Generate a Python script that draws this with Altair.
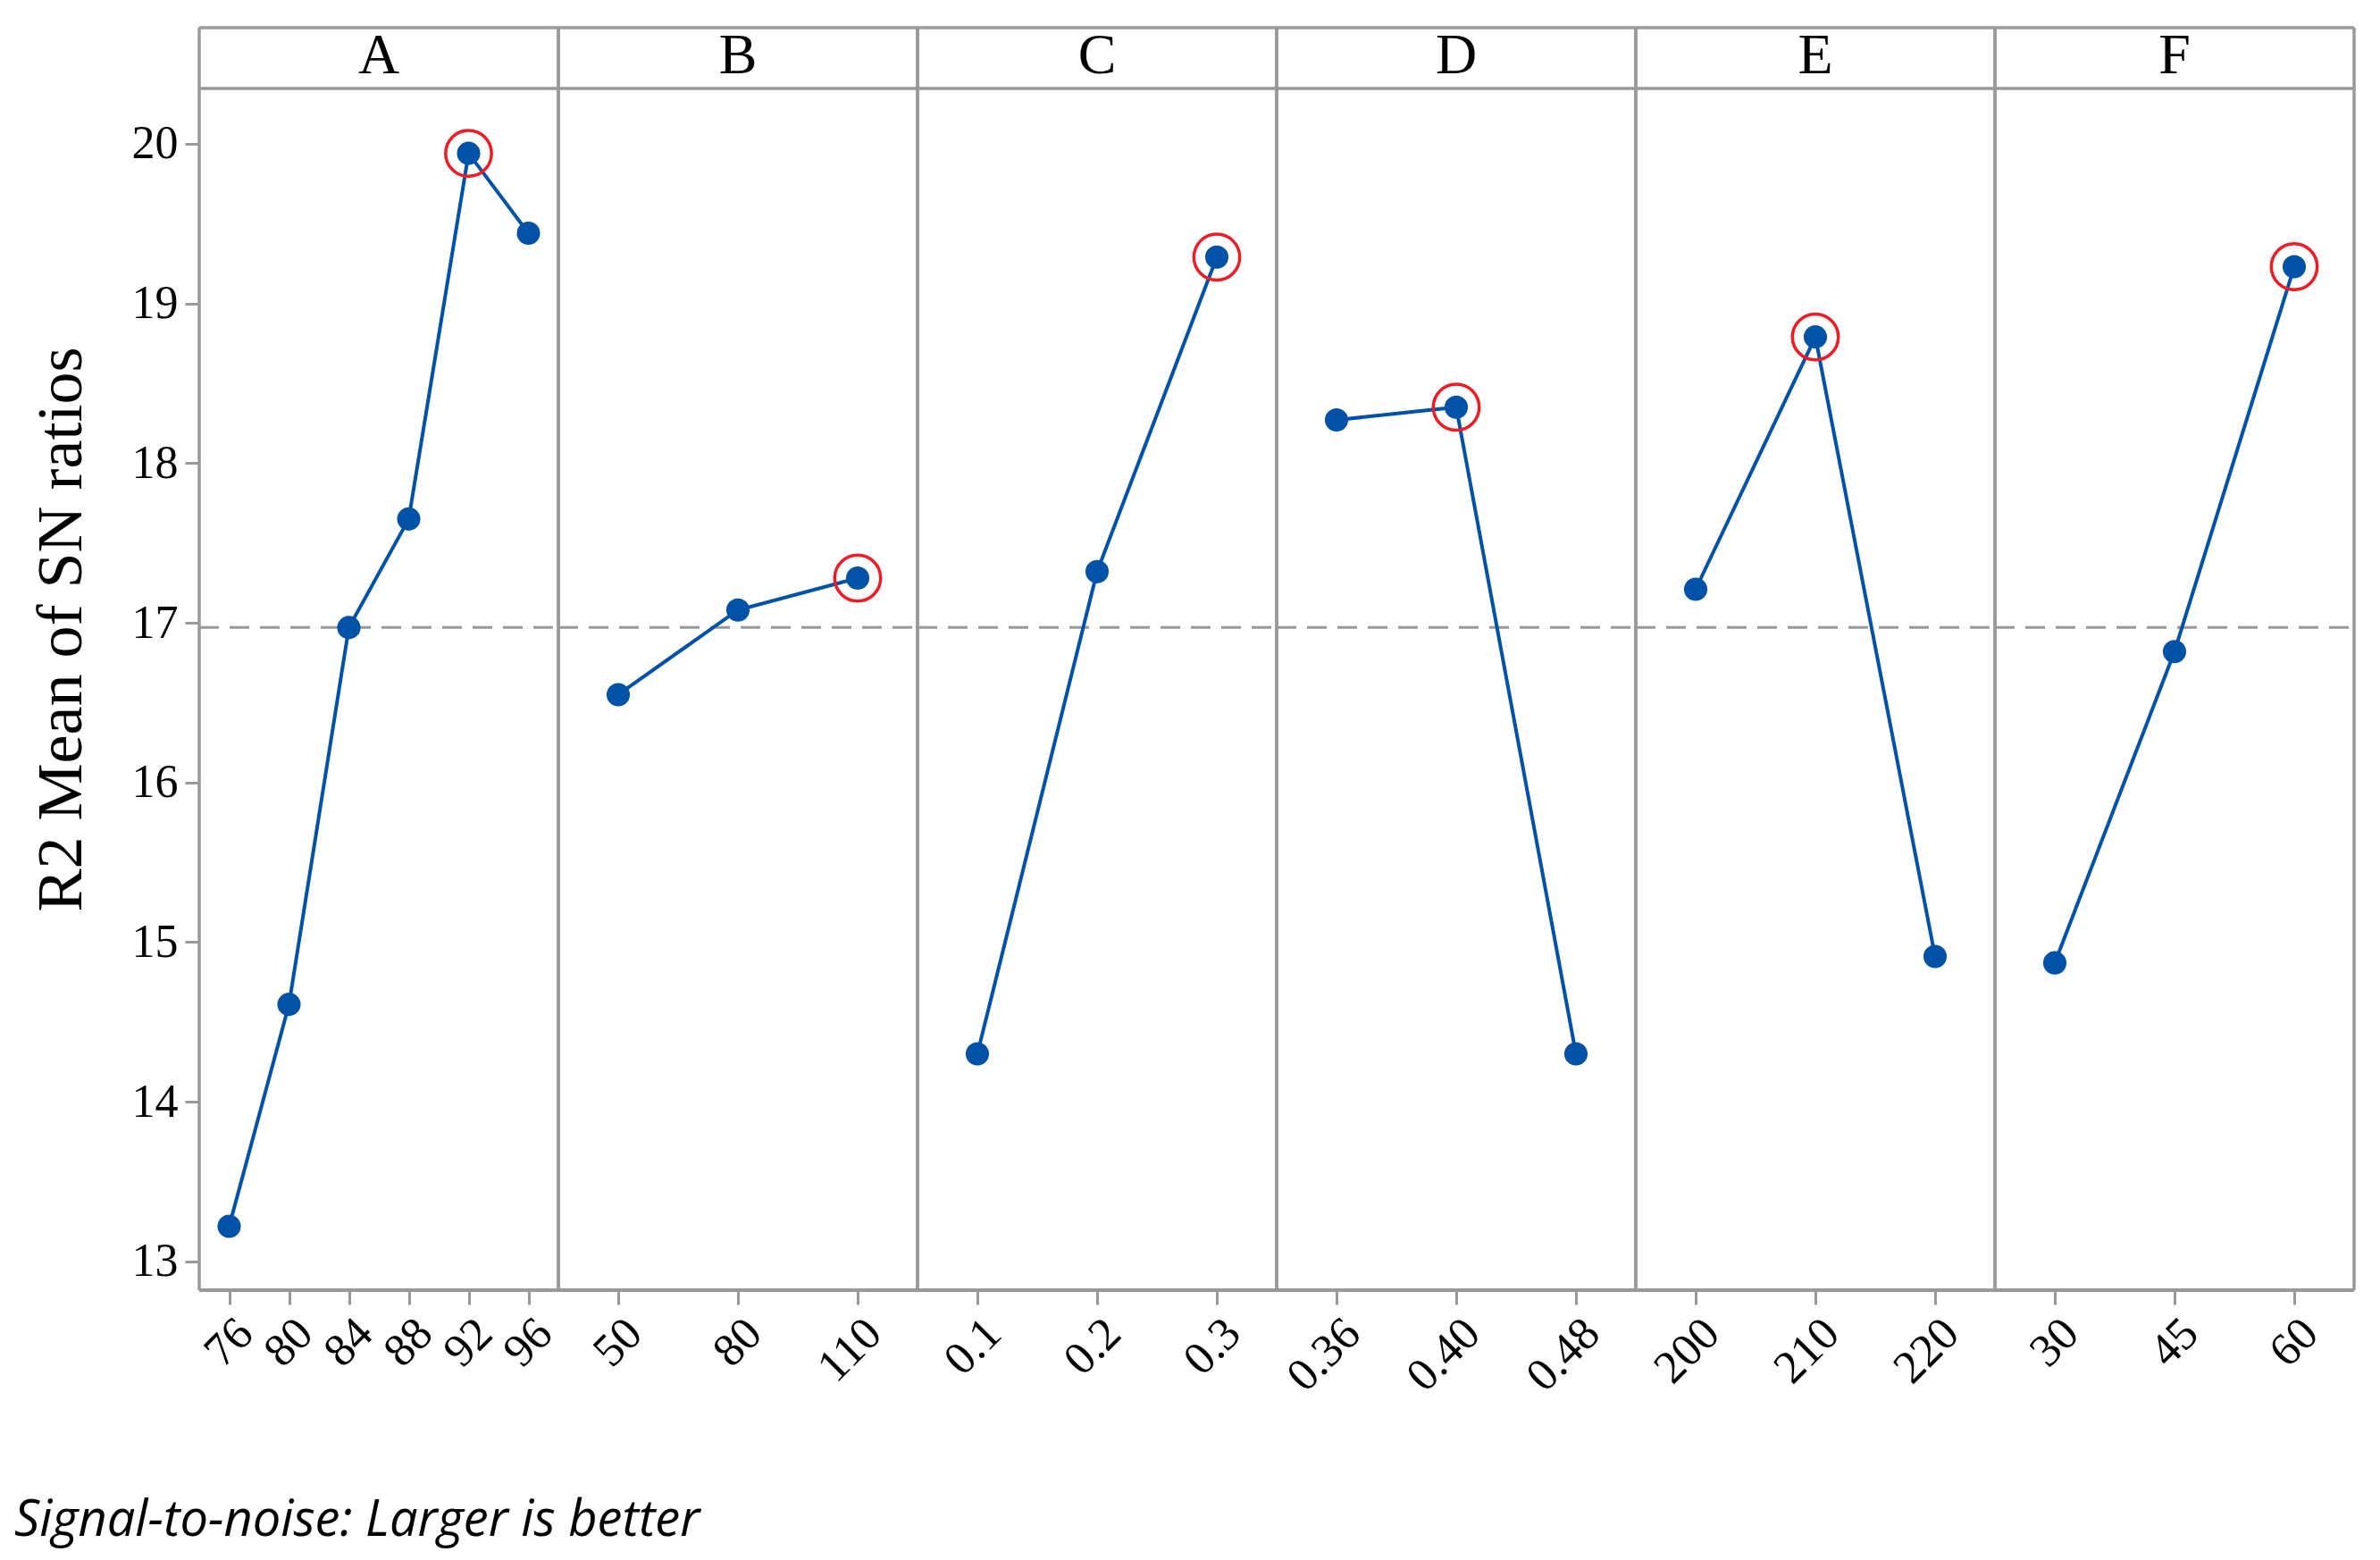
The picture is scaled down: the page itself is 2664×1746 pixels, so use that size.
import altair as alt
import pandas as pd

factors = ["A", "B", "C", "D", "E", "F"]
levels_A = ["76", "80", "84", "88", "92", "96"]
sn_A = [13.22, 14.61, 16.97, 17.65, 19.94, 19.44]
levels_B = ["50", "80", "110"]
sn_B = [16.55, 17.08, 17.28]
levels_C = ["0.1", "0.2", "0.3"]
sn_C = [14.30, 17.32, 19.29]
levels_D = ["0.36", "0.40", "0.48"]
sn_D = [18.27, 18.35, 14.30]
levels_E = ["200", "210", "220"]
sn_E = [17.21, 18.79, 14.91]
levels_F = ["30", "45", "60"]
sn_F = [14.87, 16.82, 19.23]
y_ticks = [13, 14, 15, 16, 17, 18, 19, 20]

all_levels = [levels_A, levels_B, levels_C, levels_D, levels_E, levels_F]
all_sn = [sn_A, sn_B, sn_C, sn_D, sn_E, sn_F]

rows = []
for f, levs, vals in zip(factors, all_levels, all_sn):
    best = max(vals)
    for i, (l, v) in enumerate(zip(levs, vals)):
        rows.append(dict(factor=f, level=l, sn=v, idx=i, best=(v == best)))
df = pd.DataFrame(rows)
grand_mean = float(df.groupby("factor")["sn"].mean().mean())

W = 402
H = 1413
Y_MIN, Y_MAX = 12.82, 20.727
HEADER_LINE = 20.347
HEADER_TEXT = 20.44
TITLE = "R2 Mean of SN ratios"
BLUE = "#0052a8"
RED = "#ee1c25"
GRAY = "#999999"

yscale = alt.Scale(domain=[Y_MIN, Y_MAX], nice=False, zero=False)

xenc = alt.X(
    "level:N",
    sort=None,
    scale=alt.Scale(type="point", padding=0.5),
    axis=alt.Axis(
        title=None,
        labelAngle=-45,
        labelFont="Liberation Serif",
        labelFontSize=52,
        labelColor="black",
        tickColor=GRAY,
        tickWidth=3,
        tickSize=16,
        labelPadding=6,
        domain=False,
        grid=False,
    ),
)
yenc = alt.Y(
    "sn:Q",
    scale=yscale,
    axis=alt.Axis(
        title=TITLE,
        values=y_ticks,
        format="d",
        labelFont="Liberation Serif",
        labelFontSize=52,
        labelColor="black",
        tickColor=GRAY,
        tickWidth=3,
        tickSize=16,
        labelPadding=8,
        domain=False,
        grid=False,
        titleFont="Liberation Serif",
        titleFontSize=72,
        titleFontWeight="normal",
        titleColor="black",
        titlePadding=42,
        titleY=673,
    ),
)

line = alt.Chart().mark_line(color=BLUE, strokeWidth=4).encode(
    x=xenc, y=yenc, order=alt.Order("idx:Q")
)
pts = alt.Chart().mark_point(filled=True, color=BLUE, size=680, opacity=1).encode(
    x=xenc, y=yenc
)
best = (
    alt.Chart()
    .mark_point(shape="circle", filled=False, color=RED, strokeWidth=3.5, size=2640, opacity=1)
    .encode(x=xenc, y=yenc)
    .transform_filter("datum.best")
)
mean_rule = (
    alt.Chart()
    .mark_rule(color=GRAY, strokeWidth=3, strokeDash=[22, 12])
    .encode(x=alt.value(0), x2=alt.value(W), y=alt.YDatum(grand_mean, title=TITLE, scale=yscale))
    .transform_filter("datum.best")
)
header_rule = (
    alt.Chart()
    .mark_rule(color=GRAY, strokeWidth=3.5)
    .encode(x=alt.value(0), x2=alt.value(W), y=alt.YDatum(HEADER_LINE, title=TITLE, scale=yscale))
    .transform_filter("datum.best")
)
frame_left = (
    alt.Chart()
    .mark_rule(color=GRAY, strokeWidth=3.5)
    .encode(x=alt.value(0), y=alt.value(0), y2=alt.value(H))
    .transform_filter("datum.best")
)
frame_right = (
    alt.Chart()
    .mark_rule(color=GRAY, strokeWidth=3.5)
    .encode(x=alt.value(W), y=alt.value(0), y2=alt.value(H))
    .transform_filter("datum.best")
)
frame_top = (
    alt.Chart()
    .mark_rule(color=GRAY, strokeWidth=3.5)
    .encode(x=alt.value(0), x2=alt.value(W), y=alt.value(0))
    .transform_filter("datum.best")
)
frame_bottom = (
    alt.Chart()
    .mark_rule(color=GRAY, strokeWidth=4)
    .encode(x=alt.value(0), x2=alt.value(W), y=alt.value(H))
    .transform_filter("datum.best")
)
header_text = (
    alt.Chart()
    .mark_text(font="Liberation Serif", fontSize=64, color="black", baseline="alphabetic", align="center")
    .encode(x=alt.value(W / 2), y=alt.YDatum(HEADER_TEXT, title=TITLE, scale=yscale), text="factor:N")
    .transform_filter("datum.best")
)

layered = alt.layer(
    mean_rule, header_rule, frame_left, frame_right, frame_top, frame_bottom,
    line, pts, best, header_text, data=df,
).properties(width=W, height=H)

chart = (
    layered.facet(
        column=alt.Column("factor:N", sort=factors, header=alt.Header(title=None, labels=False)),
        spacing=0,
        bounds="flush",
    )
    .resolve_scale(x="independent")
    .properties(
        padding={"left": 8, "top": 20, "right": 5, "bottom": 5},
        title=alt.TitleParams(
            "Signal-to-noise: Larger is better",
            orient="bottom",
            anchor="start",
            frame="bounds",
            font="Open Sans",
            fontStyle="italic",
            fontSize=56,
            fontWeight="normal",
            color="black",
            offset=108,
            dx=-16,
        ),
    )
    .configure_view(stroke="transparent")
    .configure(background="white")
)

chart.save("out.html", embed_options={"renderer": "svg", "actions": False})
